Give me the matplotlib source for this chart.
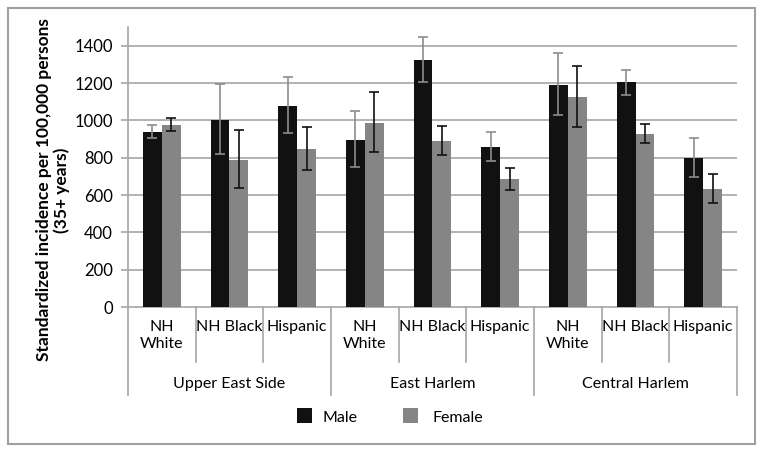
import matplotlib
matplotlib.use("Agg")
import matplotlib.pyplot as plt
from matplotlib.patches import Rectangle
from matplotlib.transforms import blended_transform_factory
import numpy as np

plt.rcParams['font.family'] = ['Lato', 'DejaVu Sans']

groups = ["Upper East Side", "East Harlem", "Central Harlem"]
categories = ["NH\nWhite", "NH Black", "Hispanic"] * 3
male = [936, 1002, 1079, 895, 1322, 857, 1191, 1204, 797]
male_lo = [907, 818, 934, 749, 1206, 784, 1027, 1138, 697]
male_hi = [975, 1193, 1234, 1052, 1449, 936, 1363, 1272, 904]
female = [975, 788, 848, 988, 888, 684, 1125, 927, 631]
female_lo = [945, 636, 736, 829, 813, 629, 965, 879, 556]
female_hi = [1015, 947, 966, 1152, 972, 747, 1290, 979, 713]
yticks = [0, 200, 400, 600, 800, 1000, 1200, 1400]
series_names = ["Male", "Female"]

W, H = 764, 454
fig = plt.figure(figsize=(W / 100, H / 100), dpi=100)

def fx(px):
    return px / W

def fy(py):
    return 1 - py / H

ax_left, ax_right, ax_top, ax_bot = 128, 737, 27, 307
ax = fig.add_axes([fx(ax_left), fy(ax_bot), fx(ax_right - ax_left), (ax_bot - ax_top) / H])

x = np.arange(len(categories))
bw = 0.28
male_c = '#111111'
female_c = '#858585'
grid_c = '#a6a6a6'

ax.bar(x - bw / 2, male, bw, color=male_c, zorder=3)
ax.bar(x + bw / 2, female, bw, color=female_c, zorder=3)

m = np.array(male); f = np.array(female)
ax.errorbar(x - bw / 2, m, yerr=[m - np.array(male_lo), np.array(male_hi) - m], fmt='none',
            ecolor='#8c8c8c', elinewidth=1.2, capsize=3.3, capthick=1.2, zorder=4)
ax.errorbar(x + bw / 2, f, yerr=[f - np.array(female_lo), np.array(female_hi) - f], fmt='none',
            ecolor='#111111', elinewidth=1.2, capsize=3.3, capthick=1.2, zorder=4)

ax.set_xlim(-0.5, len(categories) - 0.5)
ax.set_ylim(0, 1500)
ax.set_yticks(yticks)
ax.set_yticklabels([str(v) for v in yticks], fontsize=12)
for v in yticks[1:]:
    ax.axhline(v, color=grid_c, lw=1.2, zorder=1)
ax.tick_params(axis='y', length=5, color=grid_c, width=1.2, pad=6)
ax.set_xticks([])
for s in ['top', 'right']:
    ax.spines[s].set_visible(False)
ax.spines['left'].set_color(grid_c)
ax.spines['left'].set_linewidth(1.2)
ax.spines['bottom'].set_color(grid_c)
ax.spines['bottom'].set_linewidth(1.2)

ax.set_ylabel("Standardized incidence per 100,000 persons\n(35+ years)", fontsize=12.5,
              fontweight='bold', linespacing=1.15, va='center')
ax.yaxis.set_label_coords((53 - ax_left) / (ax_right - ax_left), (ax_bot - 190) / (ax_bot - ax_top))

axh = ax_bot - ax_top
trans = blended_transform_factory(ax.transData, ax.transAxes)
inner_y = -(362 - ax_bot) / axh
group_y = -(395 - ax_bot) / axh
for i in range(len(categories) + 1):
    xs = i - 0.5
    ylow = group_y if i % 3 == 0 else inner_y
    ax.plot([xs, xs], [0, ylow], color=grid_c, lw=1.2, transform=trans, clip_on=False)

lab_y = -(320 - ax_bot) / axh
for i, c in enumerate(categories):
    ax.text(i, lab_y, c, transform=trans, ha='center', va='top', fontsize=11.5, linespacing=1.25)

grp_y = -(384 - ax_bot) / axh
for g, name in enumerate(groups):
    ax.text(g * 3 + 1, grp_y, name, transform=trans, ha='center', va='center', fontsize=11.5)

# legend
sq = 15
for (x0, tx, col, name) in [(297, 323, male_c, series_names[0]), (403, 433, female_c, series_names[1])]:
    fig.add_artist(Rectangle((fx(x0), fy(423)), sq / W, sq / H, transform=fig.transFigure,
                             color=col, lw=0))
    fig.text(fx(tx), fy(418), name, ha='left', va='center', fontsize=11.5)

# outer border
fig.add_artist(Rectangle((fx(8), fy(444)), (755 - 8) / W, (444 - 8) / H, transform=fig.transFigure,
                         fill=False, edgecolor='#a0a0a0', lw=1.5))

fig.savefig("out.png", dpi=100)
